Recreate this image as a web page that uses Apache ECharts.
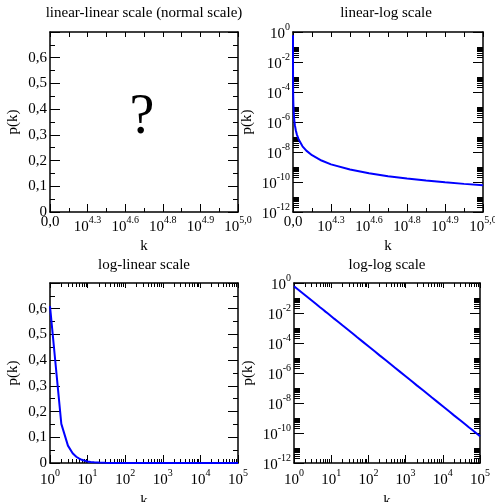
<!DOCTYPE html>
<html>
<head>
<meta charset="utf-8">
<script src="https://cdn.jsdelivr.net/npm/echarts@6/dist/echarts.min.js"></script>
<style>html,body{margin:0;padding:0;background:#fff}#chart{width:495px;height:502px}</style>
</head>
<body>
<div id="chart"></div>
<script>
// k and p(k)
const kValues = [1, 2, 3, 4, 5, 6, 7, 8, 9, 10, 12, 15, 20, 30, 40, 50, 70, 100, 150, 200, 300, 500, 700,
  1000, 1500, 2000, 3000, 5000, 7000, 10000, 15000, 20000, 30000, 40000, 50000, 60000, 70000, 80000, 90000, 100000];
const pValues = [0.61, 0.152, 0.0675, 0.038, 0.0243, 0.0169, 0.0124, 0.0095, 0.0075, 0.0061, 0.0042, 0.0027,
  0.00152, 6.8e-4, 3.8e-4, 2.4e-4, 1.24e-4, 6.1e-5, 2.7e-5, 1.5e-5, 6.8e-6, 2.4e-6, 1.24e-6,
  6.1e-7, 2.7e-7, 1.5e-7, 6.8e-8, 2.4e-8, 1.24e-8, 6.1e-9, 2.7e-9, 1.5e-9, 6.8e-10, 3.8e-10, 2.4e-10,
  1.7e-10, 1.24e-10, 9.5e-11, 7.5e-11, 6.1e-11];

// tick labels
const linKLabels = ['0,0', '10^4.3', '10^4.6', '10^4.8', '10^4.9', '10^5,0'];
const logKLabels = ['10^0', '10^1', '10^2', '10^3', '10^4', '10^5'];
const linPLabels = ['0', '0,1', '0,2', '0,3', '0,4', '0,5', '0,6'];
const logPLabels = ['10^0', '10^-2', '10^-4', '10^-6', '10^-8', '10^-10', '10^-12'];
const titles = ['linear-linear scale (normal scale)', 'linear-log scale', 'log-linear scale', 'log-log scale'];

const FONT = 'Liberation Serif';
const grids = [
  {left: 50, top: 32, width: 188, height: 180, outerBoundsMode: 'none'},
  {left: 293, top: 32, width: 190, height: 180, outerBoundsMode: 'none'},
  {left: 50, top: 283, width: 188, height: 180, outerBoundsMode: 'none'},
  {left: 294, top: 283, width: 186, height: 180, outerBoundsMode: 'none'}
];
const titlePos = [[144, 13], [386, 13], [144, 265], [387, 265]];
// x kind, y kind per panel
const kinds = [['lin', 'lin'], ['lin', 'log'], ['log', 'lin'], ['log', 'log']];

// base sits on the line bottom, exponent on the line top
const rich = {
  b: {fontFamily: FONT, fontSize: 15, color: '#000', lineHeight: 20, verticalAlign: 'bottom'},
  s: {fontFamily: FONT, fontSize: 10, color: '#000', lineHeight: 10, verticalAlign: 'top'}
};
function sup(s) {
  const i = s.indexOf('^');
  return i < 0 ? s : '{b|' + s.slice(0, i) + '}{s|' + s.slice(i + 1) + '}';
}

function scaleOf(kind, isX) {
  if (kind === 'lin' && isX) return {type: 'value', min: 0, max: 100000, interval: 20000};
  if (kind === 'lin') return {type: 'value', min: 0, max: 0.7, interval: 0.1};
  if (isX) return {type: 'log', logBase: 10, min: 1, max: 100000};
  return {type: 'log', logBase: 100, min: 1e-12, max: 1};
}
function labelFn(kind, isX) {
  if (kind === 'lin' && isX) return v => sup(linKLabels[Math.round(v / 20000)] || '');
  if (kind === 'lin') return v => linPLabels[Math.round(v * 10)] || '';
  if (isX) return v => sup(logKLabels[Math.round(Math.log10(v))] || '');
  return v => sup(logPLabels[Math.round(-Math.log10(v) / 2)] || '');
}
// 2..9 sub-ticks of the log decades
function minorValues(isX) {
  const out = [];
  const exps = isX ? [0, 1, 2, 3, 4] : [-12, -10, -8, -6, -4, -2];
  exps.forEach(e => { for (let m = 2; m <= 9; m++) out.push(m * Math.pow(10, e)); });
  return out;
}

const xAxes = [], yAxes = [];
function addAxis(gi, kind, isX, main) {
  const list = isX ? xAxes : yAxes;
  const pos = isX ? (main ? 'bottom' : 'top') : (main ? 'left' : 'right');
  const len = {bottom: 8, top: 5, left: 10, right: 10}[pos];
  const minorLen = {bottom: 4, top: 5, left: 5, right: 5}[pos];
  const ax = Object.assign(scaleOf(kind, isX), {
    gridIndex: gi,
    position: pos,
    axisLine: {show: true, onZero: false, lineStyle: {color: '#000', width: 1.5}},
    axisTick: {show: true, inside: true, length: len, lineStyle: {color: '#000', width: 1}},
    minorTick: {show: kind === 'lin', splitNumber: 2, length: minorLen, lineStyle: {color: '#000', width: 1}},
    splitLine: {show: false},
    minorSplitLine: {show: false},
    axisLabel: {
      show: main, margin: isX ? (kind === 'log' ? 5 : 3) : 3,
      color: '#000', fontFamily: FONT, fontSize: 15,
      showMinLabel: true, showMaxLabel: true,
      formatter: labelFn(kind, isX), rich: rich
    }
  });
  if (main) {
    ax.name = isX ? 'k' : 'p(k)';
    ax.nameLocation = 'middle';
    ax.nameMoveOverlap = false;
    ax.nameGap = isX ? (gi < 2 ? 27 : 31) : (gi % 2 === 0 ? 29 : 38);
    ax.nameTextStyle = {fontFamily: FONT, fontSize: 15, color: '#000'};
  }
  list.push(ax);
  const idx = list.length - 1;
  if (kind === 'log') {
    // overlay axis carrying only the short sub-decade ticks
    list.push(Object.assign(scaleOf(kind, isX), {
      gridIndex: gi,
      position: pos,
      axisLine: {show: false, onZero: false},
      axisLabel: {show: false},
      splitLine: {show: false},
      axisTick: {show: true, inside: true, length: isX ? 4 : 6, customValues: minorValues(isX),
        lineStyle: {color: '#000', width: 1}}
    }));
  }
  return idx;
}

const mainX = [], mainY = [];
kinds.forEach((k, gi) => {
  mainX.push(addAxis(gi, k[0], true, true));
  addAxis(gi, k[0], true, false);
  mainY.push(addAxis(gi, k[1], false, true));
  addAxis(gi, k[1], false, false);
});

const pairs = kValues.map((k, i) => [k, pValues[i]]);
const series = [1, 2, 3].map(gi => ({
  type: 'line',
  xAxisIndex: mainX[gi],
  yAxisIndex: mainY[gi],
  data: pairs,
  showSymbol: false,
  symbol: 'none',
  lineStyle: {color: '#0000ff', width: 2},
  itemStyle: {color: '#0000ff'}
}));

const graphic = titles.map((t, i) => ({
  type: 'text', x: titlePos[i][0], y: titlePos[i][1],
  style: {text: t, fontFamily: FONT, fontSize: 15, fill: '#000', align: 'center', verticalAlign: 'middle'}
}));
graphic.push({
  type: 'text', x: 142, y: 118,
  style: {text: '?', fontFamily: FONT, fontSize: 56, fill: '#000', align: 'center', verticalAlign: 'middle'}
});

const chart = echarts.init(document.getElementById('chart'));
chart.setOption({
  animation: false,
  backgroundColor: '#fff',
  grid: grids,
  xAxis: xAxes,
  yAxis: yAxes,
  series: series,
  graphic: graphic
});
</script>
</body>
</html>
